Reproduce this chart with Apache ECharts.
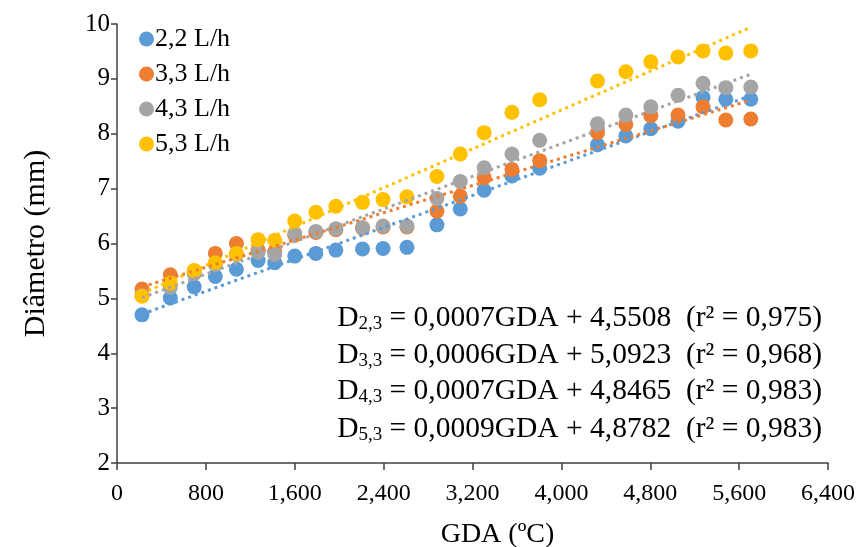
<!DOCTYPE html>
<html><head><meta charset="utf-8">
<script src="https://cdn.jsdelivr.net/npm/echarts@6/dist/echarts.min.js"></script>
<style>html,body{margin:0;padding:0;background:#fff}#c{width:860px;height:547px}</style>
</head><body><div id="c"></div>
<script>
// GDA (ºC) of each evaluation
const gda = [225,480,695,885,1075,1270,1420,1600,1790,1970,2210,2395,2610,2880,3090,3305,3555,3805,4325,4580,4805,5050,5275,5480,5705];
// Diameter (mm) per flow rate
const d22 = [4.70,5.01,5.21,5.40,5.53,5.69,5.65,5.77,5.82,5.88,5.90,5.91,5.93,6.34,6.63,6.97,7.23,7.37,7.80,7.96,8.09,8.23,8.66,8.63,8.63];
const d33 = [5.17,5.43,5.50,5.82,6.00,5.88,5.85,6.15,6.20,6.25,6.28,6.30,6.30,6.59,6.86,7.20,7.35,7.51,8.02,8.17,8.33,8.34,8.49,8.25,8.27];
const d43 = [5.05,5.20,5.45,5.62,5.80,5.84,5.80,6.18,6.22,6.27,6.29,6.32,6.32,6.82,7.13,7.38,7.63,7.88,8.18,8.34,8.49,8.70,8.92,8.84,8.85];
const d53 = [5.04,5.28,5.51,5.65,5.82,6.07,6.06,6.41,6.57,6.68,6.75,6.80,6.85,7.22,7.63,8.02,8.39,8.62,8.96,9.13,9.31,9.40,9.51,9.47,9.51];
const seriesNames = ['2,2 L/h','3,3 L/h','4,3 L/h','5,3 L/h'];
const seriesColors = ['#5B9BD5','#ED7D31','#A5A5A5','#FFC000'];
const xTickLabels = ['0','800','1,600','2,400','3,200','4,000','4,800','5,600','6,400'];
const yTickLabels = ['2','3','4','5','6','7','8','9','10'];
const eqSubs = ['2,3','3,3','4,3','5,3'];
const eqBodies = [
  ' = 0,0007GDA + 4,5508  (r² = 0,975)',
  ' = 0,0006GDA + 5,0923  (r² = 0,968)',
  ' = 0,0007GDA + 4,8465  (r² = 0,983)',
  ' = 0,0009GDA + 4,8782  (r² = 0,983)'
];

const FONT = '"Liberation Serif", "Times New Roman", serif';
const allY = [d22, d33, d43, d53];

function fit(xs, ys) {
  const n = xs.length;
  let sx = 0, sy = 0, sxx = 0, sxy = 0;
  for (let i = 0; i < n; i++) { sx += xs[i]; sy += ys[i]; sxx += xs[i]*xs[i]; sxy += xs[i]*ys[i]; }
  const b = (n*sxy - sx*sy) / (n*sxx - sx*sx);
  const a = (sy - b*sx) / n;
  return [a, b];
}

const series = [];
allY.forEach((ys, k) => {
  series.push({
    name: seriesNames[k], type: 'scatter', symbol: 'circle', symbolSize: 15,
    itemStyle: { color: seriesColors[k], opacity: 1 },
    z: 2 + k,
    data: gda.map((x, i) => [x, ys[i]])
  });
});
allY.forEach((ys, k) => {
  const [a, b] = fit(gda, ys);
  const x0 = Math.min(...gda), x1 = Math.max(...gda);
  series.push({
    name: 'trend' + k, type: 'line', symbol: 'none', silent: true,
    lineStyle: { color: seriesColors[k], width: 3, type: [3, 4] },
    z: 10,
    data: [[x0, a + b*x0], [x1, a + b*x1]]
  });
});

const eqY = [320, 357, 393, 431];
const graphics = eqBodies.map((body, i) => ({
  type: 'text', right: 38, top: eqY[i] - 17, z: 20,
  style: {
    text: '{d|D}{s|' + eqSubs[i] + '}{t|' + body + '}',
    fill: '#000',
    rich: {
      d: { fontFamily: FONT, fontSize: 29.5, lineHeight: 32, fill: '#000' },
      s: { fontFamily: FONT, fontSize: 19, lineHeight: 14, verticalAlign: 'bottom', fill: '#000' },
      t: { fontFamily: FONT, fontSize: 29.5, lineHeight: 32, fill: '#000' }
    }
  }
}));

const chart = echarts.init(document.getElementById('c'), null, { renderer: 'canvas' });
chart.setOption({
  backgroundColor: '#fff',
  animation: false,
  grid: { left: 117, right: 32, top: 24, bottom: 84, containLabel: false, outerBoundsMode: 'none' },
  legend: {
    data: seriesNames, orient: 'vertical', left: 134, top: 21,
    icon: 'circle', itemWidth: 15, itemHeight: 15, itemGap: 9,
    textStyle: { fontFamily: FONT, fontSize: 26, color: '#000', padding: [0, 0, 0, -4], lineHeight: 26 }
  },
  xAxis: {
    type: 'value', min: 0, max: 6400, interval: 800,
    name: 'GDA (ºC)', nameLocation: 'middle', nameGap: 58,
    nameTextStyle: { fontFamily: FONT, fontSize: 28, color: '#000', padding: [0, 0, 0, 50] },
    axisLine: { show: true, onZero: false, lineStyle: { color: '#404040', width: 1.5 } },
    axisTick: { show: true, inside: false, length: 7, lineStyle: { color: '#404040', width: 1.5 } },
    splitLine: { show: false },
    axisLabel: {
      margin: 19, fontFamily: FONT, fontSize: 24, color: '#000',
      formatter: v => xTickLabels[Math.round(v / 800)]
    }
  },
  yAxis: {
    type: 'value', min: 2, max: 10, interval: 1,
    name: 'Diâmetro (mm)', nameLocation: 'middle', nameGap: 66, nameRotate: 90,
    nameTextStyle: { fontFamily: FONT, fontSize: 30, color: '#000' },
    axisLine: { show: true, onZero: false, lineStyle: { color: '#404040', width: 1.5 } },
    axisTick: { show: true, inside: false, length: 6, lineStyle: { color: '#404040', width: 1.5 } },
    splitLine: { show: false },
    axisLabel: {
      margin: 7, fontFamily: FONT, fontSize: 25, color: '#000',
      formatter: v => yTickLabels[Math.round(v - 2)]
    }
  },
  graphic: graphics,
  series: series
});
</script>
</body></html>
